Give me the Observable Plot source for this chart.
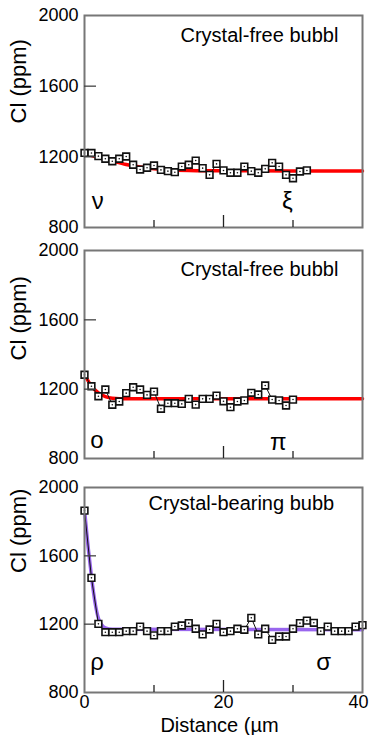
<!DOCTYPE html>
<html>
<head>
<meta charset="utf-8">
<script src="https://cdn.jsdelivr.net/npm/d3@7"></script>
<script src="https://cdn.jsdelivr.net/npm/@observablehq/plot@0.6"></script>
<style>
  html, body { margin: 0; padding: 0; background: #fff; }
  #chart svg { display: block; }
  #chart { width: 370px; }
</style>
</head>
<body>
<div id="chart"></div>
<script>
// ---- data (distance in µm, Cl in ppm) ----
const dist1 = [0,1,2,3,4,5,6,7,8,9,10,11,12,13,14,15,16,17,18,19,20,21,22,23,24,25,26,27,28,29,30,31,32];
const cl1 = [1222,1222,1204,1189,1175,1189,1202,1155,1128,1138,1151,1126,1119,1113,1145,1155,1179,1136,1098,1160,1123,1110,1110,1145,1119,1110,1132,1166,1145,1098,1079,1117,1123];
const fitX1 = [0,2,4,6,8,10,12,15,20,40];
const fitY1 = [1218,1196,1176,1157,1142,1133,1127,1123,1121,1120];

const dist2 = [0,1,2,3,4,5,6,7,8,9,10,11,12,13,14,15,16,17,18,19,20,21,22,23,24,25,26,27,28,29,30];
const cl2 = [1283,1217,1159,1198,1110,1129,1177,1211,1198,1167,1186,1087,1119,1119,1115,1144,1111,1144,1144,1163,1130,1096,1129,1135,1179,1169,1221,1140,1135,1106,1140];
const fitX2 = [0,1,2,3,4,6,40];
const fitY2 = [1285,1218,1178,1157,1148,1145,1145];

const dist3 = [0,1,2,3,4,5,6,7,8,9,10,11,12,13,14,15,16,17,18,19,20,21,22,23,24,25,26,27,28,29,30,31,32,33,34,35,36,37,38,39,40];
const cl3 = [1865,1471,1202,1153,1153,1153,1159,1159,1186,1159,1134,1159,1159,1186,1192,1206,1173,1140,1169,1202,1153,1159,1173,1167,1237,1140,1173,1108,1128,1128,1173,1206,1221,1208,1159,1186,1159,1159,1159,1186,1194];
const fitX3 = [0,0.5,1,1.5,2,2.5,3,4,40];
const fitY3 = [1870,1660,1480,1330,1235,1195,1178,1170,1168];

const titles = ["Crystal-free bubbl", "Crystal-free bubbl", "Crystal-bearing bubb"];
const letters = [["ν","ξ"], ["ο","π"], ["ρ","σ"]];
const letterX = [[1.9, 29.2], [1.8, 27.9], [1.8, 34.4]];
const letterY = [[946, 950], [904, 894], [977, 975]];
const fitColors = ["#ff0000", "#ff0000", "#9966ee"];

const yTicks = [800, 1200, 1600, 2000];
const xTickLabels = [0, 20, 40];
const yLabel = "Cl (ppm)";
const xLabel = "Distance (µm";

const FONT = "'Liberation Sans', Arial, Helvetica, sans-serif";

const panels = [
  {dist: dist1, cl: cl1, fx: fitX1, fy: fitY1, height: 240, mt: 15, mb: 13, titleDx: 96, titleDy: 20, ylabDy: 2},
  {dist: dist2, cl: cl2, fx: fitX2, fy: fitY2, height: 230, mt: 10, mb: 12, titleDx: 96, titleDy: 19, ylabDy: 6},
  {dist: dist3, cl: cl3, fx: fitX3, fy: fitY3, height: 265, mt: 17, mb: 43, titleDx: 64, titleDy: 16, ylabDy: -17}
];

const chart = document.getElementById("chart");

panels.forEach((p, i) => {
  const pts = p.dist.map((d, j) => ({x: d, y: p.cl[j]}));
  const fit = p.fx.map((d, j) => ({x: d, y: p.fy[j]}));
  const labs = letters[i].map((t, j) => ({t, x: letterX[i][j], y: letterY[i][j]}));
  const last = i === 2;
  const svg = Plot.plot({
    width: 370,
    height: p.height,
    marginLeft: 84,
    marginRight: 8,
    marginTop: p.mt,
    marginBottom: p.mb,
    style: {fontFamily: FONT, background: "#fff", color: "#000"},
    x: {domain: [0, 40]},
    y: {domain: [800, 2000]},
    marks: [
      Plot.line(fit, {x: "x", y: "y", stroke: fitColors[i], strokeWidth: 3.5, curve: "monotone-x"}),
      Plot.line(pts, {x: "x", y: "y", stroke: "#111", strokeWidth: 1}),
      Plot.dot(pts, {x: "x", y: "y", symbol: "square", r: 3.8, fill: "#fff", stroke: "#111", strokeWidth: 1.6}),
      Plot.dot(pts, {x: "x", y: "y", r: 0.8, fill: "#111"}),
      Plot.frame({stroke: "#777", strokeWidth: 2}),
      Plot.axisY({ticks: yTicks, tickSize: 0, tickPadding: 6, tickFormat: "d", label: null, fontSize: 18}),
      Plot.axisY({ticks: [1200, 1600], tickSize: -12, fill: "none", stroke: "#444", strokeWidth: 1.3, label: null}),
      Plot.axisX({ticks: [10, 30], tickSize: -7, fill: "none", stroke: "#222", strokeWidth: 1.3, label: null}),
      Plot.axisX({ticks: [20], tickSize: -12, fill: "none", stroke: "#222", strokeWidth: 1.3, label: null}),
      last ? Plot.axisX({ticks: xTickLabels.slice(0, 2), tickSize: 0, tickPadding: 3, tickFormat: "d", fontSize: 18, label: null}) : null,
      last ? Plot.axisX({ticks: xTickLabels.slice(2), tickSize: 0, tickPadding: 3, tickFormat: "d", fontSize: 18, dx: -4, label: null}) : null,
      last ? Plot.text([xLabel], {frameAnchor: "bottom", text: d => d, dy: 33, dx: -4, fontSize: 20, lineAnchor: "middle"}) : null,
      Plot.text([yLabel], {frameAnchor: "left", text: d => d, rotate: -90, dx: -66, dy: p.ylabDy, fontSize: 22, lineAnchor: "middle"}),
      Plot.text([titles[i]], {frameAnchor: "top-left", text: d => d, dx: p.titleDx, dy: p.titleDy, fontSize: 20, textAnchor: "start", lineAnchor: "middle"}),
      Plot.text(labs, {x: "x", y: "y", text: "t", fontSize: 24, lineAnchor: "middle"})
    ]
  });
  chart.appendChild(svg);
});
</script>
</body>
</html>
